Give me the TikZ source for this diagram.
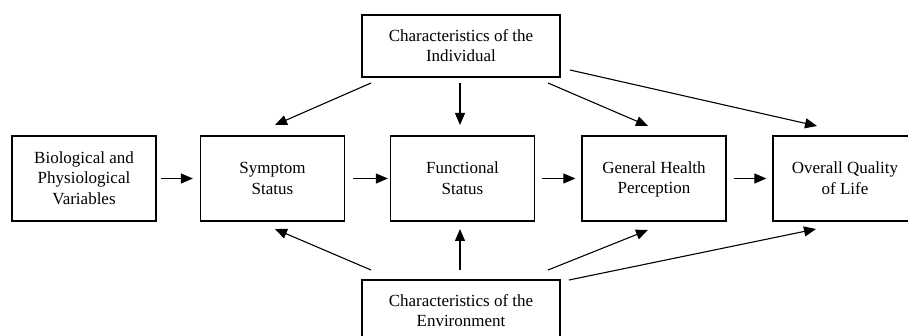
\documentclass[tikz,border=0pt]{standalone}
\usepackage{fontspec}
\setmainfont{Liberation Serif}
\usetikzlibrary{arrows.meta}
\newcommand{\sline}[1]{\rule[-3.2pt]{0pt}{17.3pt}#1}
\begin{document}
\begin{tikzpicture}[x=1pt,y=-1pt,
  box/.style={draw, line width=1.3pt, minimum width=#1, align=center, inner sep=0pt,
    font=\fontsize{17}{20.5}\selectfont},
  box/.default=144pt,
  arr/.style={line width=1.1pt, -{Triangle[length=12pt,width=10pt]}}]
\useasboundingbox (0,0) rectangle (908,336);
\clip (0,0) rectangle (908,336);
% boxes
\node[box=198pt, minimum height=62pt] (ind) at (461,46) {\sline{Characteristics of the}\\\sline{Individual}};
\node[box, minimum height=85pt] (bio) at (84,178.5) {\sline{Biological and}\\\sline{Physiological}\\\sline{Variables}};
\node[box, minimum height=85pt] (sym) at (272.5,178.5) {\sline{Symptom}\\\sline{Status}};
\node[box, minimum height=85pt] (fun) at (462.5,178.5) {\sline{Functional}\\\sline{Status}};
\node[box, minimum height=85pt] (ghp) at (654,178.5) {\sline{General Health}\\\sline{Perception}};
\node[box, minimum height=85pt] (oql) at (845,178.5) {\sline{Overall Quality}\\\sline{of Life}};
\node[box=198pt, minimum height=62pt] (env) at (461,311) {\sline{Characteristics of the}\\\sline{Environment}};
% endpoints
\coordinate (i1) at (371,83);  \coordinate (s1) at (275,125);
\coordinate (i2) at (460,83);  \coordinate (f1) at (460,125);
\coordinate (i3) at (548,83);  \coordinate (g1) at (648,126);
\coordinate (i4) at (570,70);  \coordinate (o1) at (817,126);
\coordinate (e1) at (371,270); \coordinate (s2) at (275,229);
\coordinate (e2) at (460,270); \coordinate (f2) at (460,229);
\coordinate (e3) at (548,270); \coordinate (g2) at (648,230);
\coordinate (e4) at (569,280); \coordinate (o2) at (816,229);
% horizontal arrows
\draw[arr] ([xshift=4pt]bio.east) -- ([xshift=-7pt]sym.west);
\draw[arr] ([xshift=8pt]sym.east) -- ([xshift=-2pt]fun.west);
\draw[arr] ([xshift=7pt]fun.east) -- ([xshift=-6pt]ghp.west);
\draw[arr] ([xshift=7pt]ghp.east) -- ([xshift=-6pt]oql.west);
% from individual
\draw[arr] (i1) -- (s1);
\draw[arr] (i2) -- (f1);
\draw[arr] (i3) -- (g1);
\draw[arr] (i4) -- (o1);
% from environment
\draw[arr] (e1) -- (s2);
\draw[arr] (e2) -- (f2);
\draw[arr] (e3) -- (g2);
\draw[arr] (e4) -- (o2);
\end{tikzpicture}
\end{document}
